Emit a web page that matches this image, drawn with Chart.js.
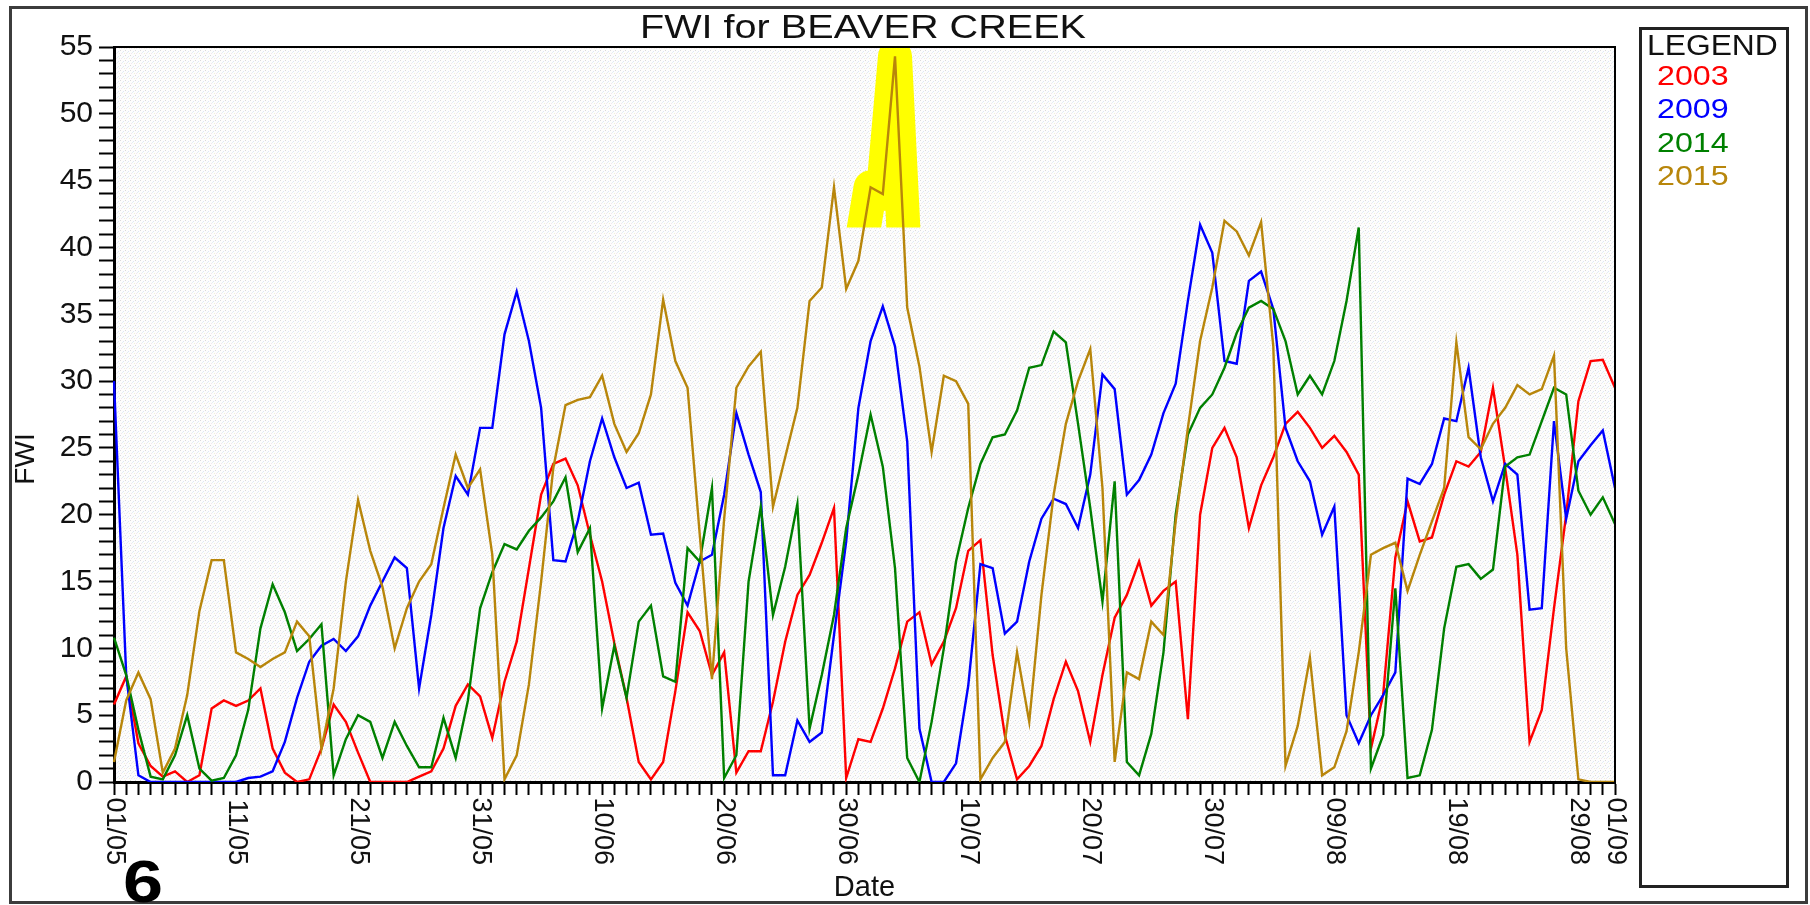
<!DOCTYPE html>
<html>
<head>
<meta charset="utf-8">
<title>FWI for BEAVER CREEK</title>
<script src="https://cdn.jsdelivr.net/npm/chart.js@4.4.1/dist/chart.umd.min.js"></script>
<style>
  html, body { margin: 0; padding: 0; background: #fff; overflow: hidden; }
  #wrap { position: relative; width: 1810px; height: 905px; }
</style>
</head>
<body>
<div id="wrap"><canvas id="fwi" width="1810" height="905"></canvas></div>
<script>
// days 01/05 .. 01/09
const monthDays = [["05", 31], ["06", 30], ["07", 31], ["08", 31], ["09", 1]];
const days = [];
monthDays.forEach(([m, n]) => {
    for (let d = 1; d <= n; d++) days.push(String(d).padStart(2, "0") + "/" + m);
});

const tickLabels = ["01/05", "11/05", "21/05", "31/05", "10/06", "20/06", "30/06",
    "10/07", "20/07", "30/07", "09/08", "19/08", "29/08", "01/09"];

const years = ["2003", "2009", "2014", "2015"];
const colors = ["#ff0000", "#0000ff", "#008000", "#b8860b"];

const fwi2003 = [
    5.8, 7.9, 2.9, 1.2, 0.4, 0.8, 0, 0.5, 5.5, 6.1,
    5.7, 6.1, 7.0, 2.5, 0.7, 0, 0.2, 2.5, 5.8, 4.5,
    2.2, 0, 0, 0, 0, 0.4, 0.8, 2.5, 5.7, 7.3,
    6.4, 3.3, 7.5, 10.5, 16, 21.5, 23.8, 24.2, 22.2, 18.5,
    15, 10.4, 6.3, 1.5, 0.2, 1.5, 6.8, 12.7, 11.3, 8.0,
    9.7, 0.7, 2.3, 2.3, 6, 10.5, 14, 15.5, 17.9, 20.5,
    0.3, 3.2, 3.0, 5.5, 8.5, 12, 12.7, 8.8, 10.5, 13,
    17.3, 18.1, 9.5, 3.5, 0.2, 1.2, 2.7, 6.2, 9, 6.8,
    3, 8, 12.3, 14, 16.5, 13.2, 14.3, 15, 4.7, 20,
    25, 26.5, 24.3, 19, 22.2, 24.3, 26.8, 27.7, 26.5, 25,
    25.9, 24.7, 23, 2.5, 6.5, 16.8, 21, 18, 18.3, 21.5,
    24, 23.6, 24.7, 29.5, 23.5, 17, 3, 5.4, 13, 20,
    28.5, 31.5, 31.6, 29.5
];
const fwi2009 = [
    30, 8, 0.5, 0, 0, 0, 0, 0, 0, 0,
    0, 0.3, 0.4, 0.8, 3, 6.3, 9, 10.2, 10.7, 9.8,
    10.9, 13.2, 15, 16.8, 16, 7, 12.5, 19, 22.9, 21.5,
    26.5, 26.5, 33.5, 36.7, 33, 28, 16.6, 16.5, 19.5, 24,
    27.2, 24.3, 22, 22.4, 18.5, 18.6, 14.9, 13.2, 16.5, 17,
    21.5, 27.6, 24.5, 21.7, 0.5, 0.5, 4.6, 3, 3.7, 11,
    18, 28, 33, 35.6, 32.6, 25.5, 4, 0, 0, 1.4,
    7.2, 16.3, 16, 11.1, 12, 16.5, 19.7, 21.2, 20.8, 19,
    23, 30.5, 29.4, 21.5, 22.6, 24.5, 27.6, 29.8, 36, 41.7,
    39.6, 31.5, 31.3, 37.5, 38.2, 35.4, 26.5, 24, 22.5, 18.5,
    20.6, 5, 2.9, 5, 6.5, 8.2, 22.7, 22.3, 23.8, 27.2,
    27, 31, 24.3, 21, 23.8, 23, 12.9, 13, 27, 19.7,
    24, 25.2, 26.3, 22
];
const fwi2014 = [
    10.8, 8, 3.9, 0.4, 0.2, 2, 5, 1, 0.1, 0.3,
    2, 5.4, 11.5, 14.8, 12.7, 9.8, 10.7, 11.8, 0.5, 3.2,
    5, 4.5, 1.8, 4.5, 2.7, 1.1, 1.1, 4.8, 1.8, 6.1,
    13, 15.7, 17.8, 17.4, 18.8, 19.8, 21, 22.8, 17.2, 19,
    5.5, 10.2, 6.3, 12, 13.2, 7.9, 7.5, 17.5, 16.5, 22,
    0.3, 2, 15, 20.6, 12.5, 16.1, 20.8, 4, 8, 12.5,
    19, 23, 27.5, 23.6, 16, 1.8, 0, 4.5, 10, 16.5,
    20.5, 23.8, 25.8, 26, 27.8, 31, 31.2, 33.7, 32.9, 26.8,
    20.5, 13.5, 22.5, 1.5, 0.5, 3.6, 9.7, 20, 26, 28,
    29, 31, 33.6, 35.5, 36, 35.4, 33, 29, 30.4, 29,
    31.5, 36, 41.5, 1, 3.5, 14.5, 0.3, 0.5, 3.9, 11.5,
    16.1, 16.3, 15.2, 15.9, 23.6, 24.3, 24.5, 27, 29.5, 29,
    21.8, 20, 21.3, 19.3
];
const fwi2015 = [
    1.5, 6.1, 8.2, 6.2, 0.7, 2.5, 6.5, 12.8, 16.6, 16.6,
    9.7, 9.2, 8.6, 9.2, 9.7, 12, 10.9, 2.5, 7, 15,
    21.1, 17.3, 14.6, 10, 13, 15, 16.3, 20.5, 24.5, 22,
    23.4, 17, 0.2, 2, 7.3, 15, 23.5, 28.2, 28.6, 28.8,
    30.4, 26.8, 24.7, 26.1, 29, 36.1, 31.5, 29.5, 18.5, 7.7,
    19.7, 29.5, 31.1, 32.2, 20.6, 24.3, 28, 36, 37, 44.5,
    36.9, 39, 44.5, 44, 54.3, 35.5, 31.1, 24.7, 30.4, 30,
    28.3, 0.2, 1.8, 3, 9.7, 4.5, 14, 21.5, 26.8, 30,
    32.4, 22, 1.5, 8.2, 7.7, 12, 11, 19.5, 26.5, 33,
    37, 42, 41.2, 39.4, 41.9, 32.6, 1.2, 4.2, 9.3, 0.5,
    1.1, 3.8, 9.7, 17, 17.5, 17.9, 14.3, 17, 19.5, 22,
    32.9, 25.8, 24.9, 26.8, 28, 29.7, 29, 29.4, 31.9, 10,
    0.2, 0, 0, 0
];
const series = [fwi2003, fwi2009, fwi2014, fwi2015];

// yellow marker over the 2015 peak
const highlightFrom = 61, highlightTo = 66, highlightFloor = 41.5;

Chart.defaults.font.family = '"Liberation Sans", Arial, sans-serif';
Chart.defaults.color = "#111";

// stippled plot background
const tile = document.createElement("canvas");
tile.width = 5; tile.height = 5;
const tctx = tile.getContext("2d");
tctx.fillStyle = "#fdfdfd"; tctx.fillRect(0, 0, 5, 5);
[[0, 0, "#d9d9d9"], [3, 1, "#e0e5f5"], [1, 3, "#f3e5f1"], [4, 3, "#f1f0da"], [2, 2, "#e2f1f1"]]
    .forEach(([px, py, c]) => { tctx.fillStyle = c; tctx.fillRect(px, py, 1, 1); });

function drawText(ctx, text, x, y, o) {
    ctx.save();
    ctx.font = o.font;
    ctx.fillStyle = o.color || "#111";
    ctx.textAlign = o.align || "left";
    ctx.textBaseline = o.baseline || "alphabetic";
    ctx.translate(x, y);
    if (o.rotate) ctx.rotate(o.rotate);
    ctx.scale(o.sx || 1, 1);
    ctx.fillText(text, 0, 0);
    ctx.restore();
}

const framePlugin = {
    id: "frame",
    beforeDraw(chart) {
        const { ctx, chartArea: a } = chart;
        ctx.save();
        ctx.fillStyle = "#fff";
        ctx.fillRect(0, 0, chart.width, chart.height);
        ctx.fillStyle = ctx.createPattern(tile, "repeat");
        ctx.fillRect(a.left, a.top, a.right - a.left, a.bottom - a.top);
        ctx.restore();
    },
    beforeDatasetsDraw(chart) {
        const { ctx, chartArea: a, scales: { x, y } } = chart;
        ctx.save();
        ctx.beginPath();
        ctx.rect(a.left, a.top, a.right - a.left, y.getPixelForValue(highlightFloor) - a.top);
        ctx.clip();
        ctx.beginPath();
        for (let d = highlightFrom; d <= highlightTo; d++) {
            const px = x.getPixelForValue(d), py = y.getPixelForValue(fwi2015[d]);
            if (d === highlightFrom) ctx.moveTo(px, py); else ctx.lineTo(px, py);
        }
        ctx.strokeStyle = "#ffff00";
        ctx.lineWidth = 34;
        ctx.lineJoin = "round";
        ctx.lineCap = "butt";
        ctx.stroke();
        ctx.restore();
    },
    afterDraw(chart) {
        const { ctx, chartArea: a } = chart;
        ctx.save();
        ctx.strokeStyle = "#000";
        ctx.lineWidth = 2;
        ctx.beginPath();
        ctx.moveTo(a.left, a.top);
        ctx.lineTo(a.right, a.top);
        ctx.lineTo(a.right, a.bottom);
        ctx.stroke();

        ctx.strokeStyle = "#3c3c3c";
        ctx.lineWidth = 3;
        ctx.strokeRect(10.5, 7.5, 1796, 895);
        ctx.strokeStyle = "#222";
        ctx.strokeRect(1640.5, 28.5, 147, 858);
        ctx.restore();

        drawText(ctx, "FWI for BEAVER CREEK", 863, 38, { font: "33px " + Chart.defaults.font.family, align: "center", sx: 1.2 });
        drawText(ctx, "FWI", 26, 459, { font: "28px " + Chart.defaults.font.family, align: "center", baseline: "middle", rotate: -Math.PI / 2 });
        drawText(ctx, "LEGEND", 1647, 55, { font: "30px " + Chart.defaults.font.family, sx: 1.06 });
        const base = [85, 118, 152, 185];
        years.forEach((yr, i) => drawText(ctx, yr, 1657, base[i], { font: "28px " + Chart.defaults.font.family, color: colors[i], sx: 1.15 }));
        drawText(ctx, "6", 123, 902, { font: "bold 60px " + Chart.defaults.font.family, color: "#000", sx: 1.2 });
    }
};

new Chart(document.getElementById("fwi").getContext("2d"), {
    type: "line",
    data: {
        labels: days,
        datasets: years.map((yr, i) => ({
            label: yr,
            data: series[i],
            borderColor: colors[i],
            backgroundColor: colors[i],
            borderWidth: 2.4,
            pointRadius: 0,
            tension: 0,
            fill: false,
            order: 4 - i
        }))
    },
    options: {
        responsive: false,
        animation: false,
        devicePixelRatio: 1,
        layout: { padding: { left: 0, right: 195, top: 47, bottom: 0 } },
        plugins: { legend: { display: false }, tooltip: { enabled: false }, title: { display: false } },
        scales: {
            x: {
                type: "category",
                offset: false,
                afterFit: (s) => { s.height = 123; },
                grid: { drawOnChartArea: false, drawTicks: true, tickLength: 13, tickWidth: 2, tickColor: "#000", offset: false },
                border: { display: true, color: "#000", width: 3 },
                ticks: {
                    autoSkip: false,
                    minRotation: -90,
                    maxRotation: -90,
                    padding: 70,
                    color: "#111",
                    font: { size: 27 },
                    callback: function (value, index) {
                        const lbl = days[index];
                        return tickLabels.includes(lbl) ? lbl : "";
                    }
                },
                title: { display: true, text: "Date", font: { size: 29 }, color: "#111", padding: { top: 0, bottom: 0 } }
            },
            y: {
                min: 0,
                max: 55,
                afterFit: (s) => { s.width = 114; },
                grid: { drawOnChartArea: false, drawTicks: true, tickLength: 15, tickWidth: 2, tickColor: "#000" },
                border: { display: true, color: "#000", width: 3 },
                ticks: {
                    stepSize: 1,
                    autoSkip: false,
                    padding: 6,
                    color: "#111",
                    font: { size: 30 },
                    callback: (v) => (v % 5 === 0 ? String(v) : "")
                }
            }
        }
    },
    plugins: [framePlugin]
});
</script>
</body>
</html>
